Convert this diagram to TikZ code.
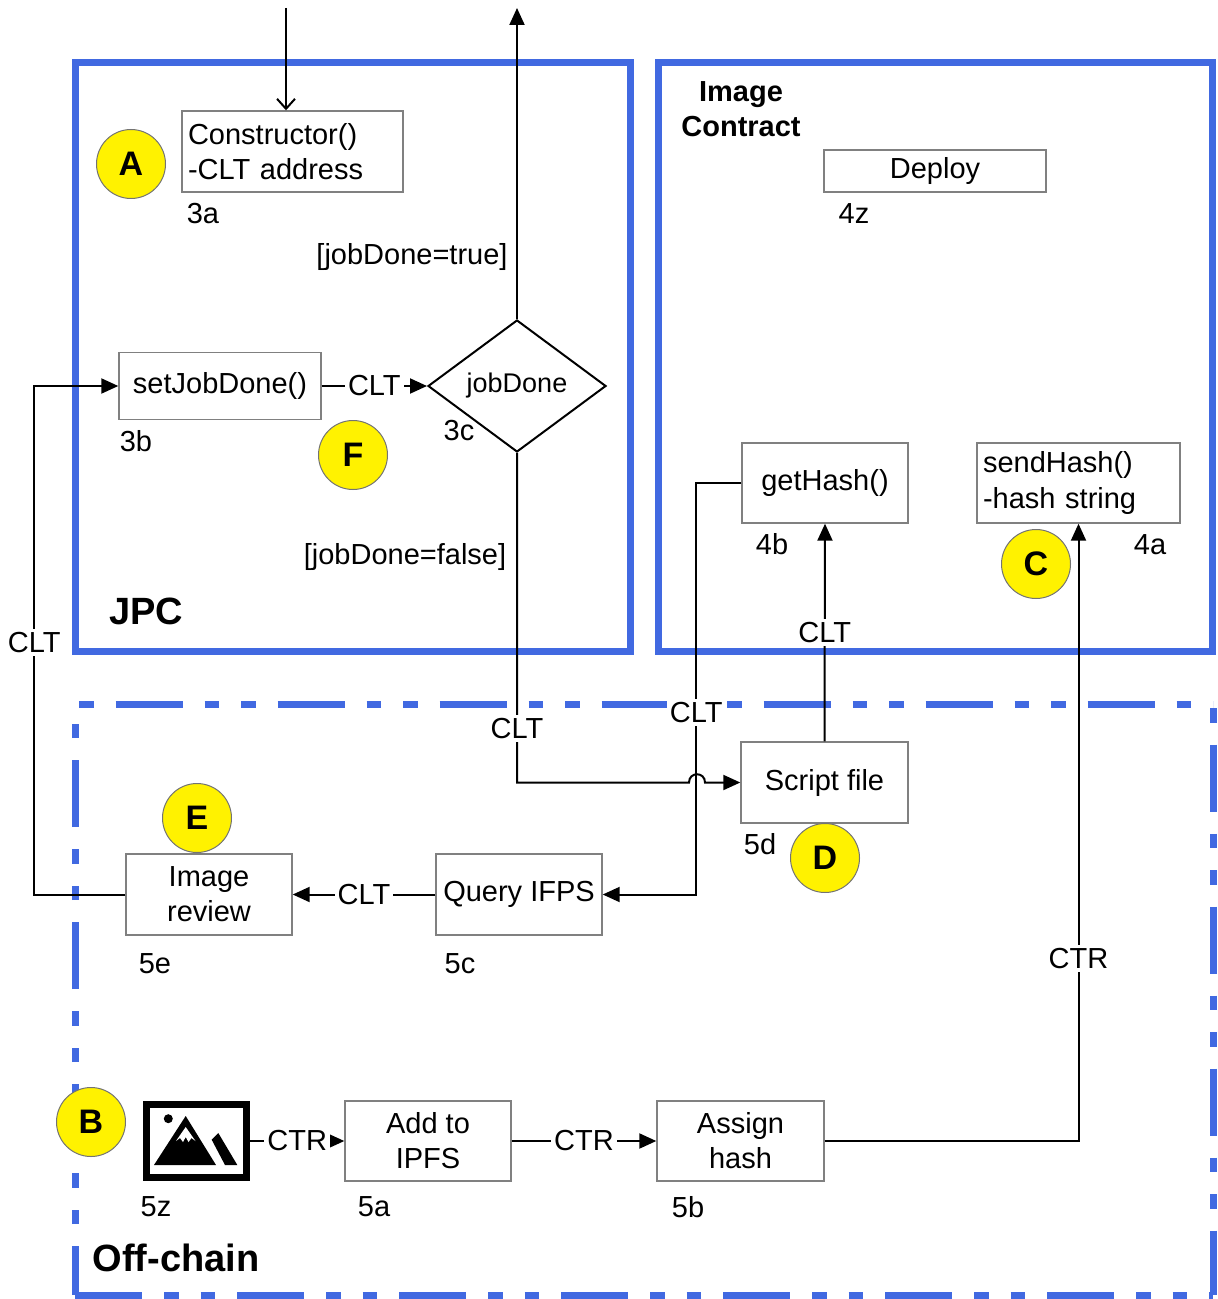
\documentclass[tikz,border=0pt]{standalone}
\usepackage{fontspec}
\setmainfont{Liberation Sans}
\usetikzlibrary{shapes.geometric,arrows.meta}
\definecolor{rblue}{RGB}{65,105,225}
\definecolor{boxgray}{RGB}{128,128,128}
\begin{document}
\begin{tikzpicture}[x=0.5pt,y=-0.5pt,
  font=\fontsize{14.5pt}{17.5pt}\selectfont,
  box/.style={draw=boxgray, line width=0.7pt, rectangle, inner sep=0pt, align=center},
  badge/.style={circle, draw=black!55, line width=0.5pt, fill=yellow, minimum size=34.5pt, inner sep=0pt, font=\fontsize{17pt}{17pt}\selectfont\bfseries},
  lbl/.style={fill=white, inner sep=1.5pt},
  conn/.style={line width=1pt, draw=black},
  tri/.style={-{Triangle[length=8.5pt,width=7.5pt]}},
  region/.style={draw=rblue, line width=3.5pt},
  dashA/.style={dash pattern=on 7.25pt off 11pt on 33.5pt off 11pt on 7.25pt off 11pt, dash phase=79pt},
  dashB/.style={dash pattern=on 33.5pt off 11pt on 7.25pt off 11pt on 7.25pt off 11pt},
  title/.style={font=\fontsize{19pt}{19pt}\selectfont\bfseries}
]
\useasboundingbox (0,0) rectangle (1217,1299);

% regions
\draw[region] (75.5,62.5) rectangle (630.5,651.5);
\draw[region] (658.5,62.5) rectangle (1212,651.5);
\draw[region,dashA] (75,704) -- (1213,704);
\draw[region,dashA] (1213,704) -- (1213,1295);
\draw[region,dashB] (75,1295) -- (1213,1295);
\draw[region,dashB,dash phase=9pt] (75,1295) -- (75,704);

% titles
\node[title] (jpc) at (146,611) {JPC};
\node[font=\fontsize{14.5pt}{17.5pt}\selectfont\bfseries, align=center] (ictitle) at (741,109) {Image\\Contract};
\node[title] (offc) at (176,1258) {Off-chain};

% boxes
\node[box, minimum width=110.5pt, minimum height=40.5pt, text width=104.5pt, align=left] (cons) at (292.5,151.5) {Constructor()\\-CLT address};
\node[box, minimum width=101pt, minimum height=33.5pt] (setjob) at (220,386) {setJobDone()};
\node[diamond, draw=black, line width=1pt, minimum width=89pt, minimum height=66pt, inner sep=0pt, font=\fontsize{13.5pt}{16pt}\selectfont] (jd) at (517,386) {jobDone};
\node[box, minimum width=111pt, minimum height=21pt] (deploy) at (935,171) {Deploy};
\node[box, minimum width=83pt, minimum height=40pt] (gethash) at (825,483) {getHash()};
\node[box, minimum width=101.5pt, minimum height=40pt, text width=95.5pt, align=left] (sendhash) at (1078.5,483) {sendHash()\\-hash string};
\node[box, minimum width=83.5pt, minimum height=40.5pt] (script) at (824.5,782.5) {Script file};
\node[box, minimum width=83pt, minimum height=40.5pt] (query) at (519,894.5) {Query IFPS};
\node[box, minimum width=83pt, minimum height=40.5pt] (imgrev) at (209,894.5) {Image\\review};
\node[box, minimum width=83pt, minimum height=40pt] (addipfs) at (428,1141) {Add to\\IPFS};
\node[box, minimum width=83.5pt, minimum height=40pt] (assign) at (740.5,1141) {Assign\\hash};

% image icon
\node[draw=black, line width=3.5pt, minimum width=50pt, minimum height=36.5pt, inner sep=0pt] (icon) at (196.5,1141) {};
\fill (185.7,1116) -- (216,1165) -- (154,1165) -- cycle;
\fill (211.7,1139.7) -- (218.3,1133) -- (237.3,1165) -- (225,1165) -- cycle;
\fill (168.3,1118.7) circle (4.5);
\fill[white] (185.7,1127) -- (195.5,1141) -- (191.5,1138) -- (188.5,1142) -- (185.7,1137) -- (183,1142) -- (180,1138) -- (176,1141) -- cycle;

% id labels
\node (l3a) at (203,214) {3a};
\node (l3b) at (136,441) {3b};
\node (l3c) at (459,431) {3c};
\node (l4z) at (854,214) {4z};
\node (l4b) at (772,544) {4b};
\node (l4a) at (1150,545) {4a};
\node (l5d) at (760,844) {5d};
\node (l5e) at (155,964) {5e};
\node (l5c) at (460,964) {5c};
\node (l5z) at (156,1207) {5z};
\node (l5a) at (374,1207) {5a};
\node (l5b) at (688,1207) {5b};

% guard labels
\node (jtrue) at (412,257) {[jobDone=true]};
\node (jfalse) at (405,557) {[jobDone=false]};

% badges
\node[badge] (bA) at (131,164) {A};
\node[badge] (bF) at (353,455) {F};
\node[badge] (bC) at (1036,564) {C};
\node[badge] (bD) at (825,858) {D};
\node[badge] (bE) at (197,818) {E};
\node[badge] (bB) at (91,1122) {B};

% connectors
\coordinate (inTop) at (286,8);
\coordinate (outTop) at (517,8);
\draw[conn, -{Straight Barb[length=5pt,width=9pt]}] (inTop) -- (inTop |- cons.north);
\draw[conn, tri] (jd.north) -- (outTop);
\draw[conn, tri] (setjob.east) -- node[lbl]{CLT} (jd.west);

\coordinate (bend1) at (jd.south |- script.west);
\coordinate (hopL) at (689,782.5);
\coordinate (hopR) at (705,782.5);
\draw[conn, tri] (jd.south) -- node[lbl,pos=0.836]{CLT} (bend1) -- (hopL) .. controls +(0,-11) and +(0,-11) .. (hopR) -- (script.west);

\draw[conn, tri] (script.north) -- node[lbl,pos=0.5]{CLT} (gethash.south);
\draw[conn, tri] (gethash.west) -- ++(-45,0) |- node[lbl,pos=0.279]{CLT} (query.east);
\draw[conn, tri] (query.west) -- node[lbl]{CLT} (imgrev.east);
\draw[conn, tri] (imgrev.west) -- ++(-91,0) |- node[lbl,pos=0.248]{CLT} (setjob.west);

\draw[conn, tri] (icon.east) -- node[lbl]{CTR} (addipfs.west);
\draw[conn, tri] (addipfs.east) -- node[lbl]{CTR} (assign.west);
\draw[conn, tri] (assign.east) -| node[lbl,pos=0.648]{CTR} (sendhash.south);
\end{tikzpicture}
\end{document}
